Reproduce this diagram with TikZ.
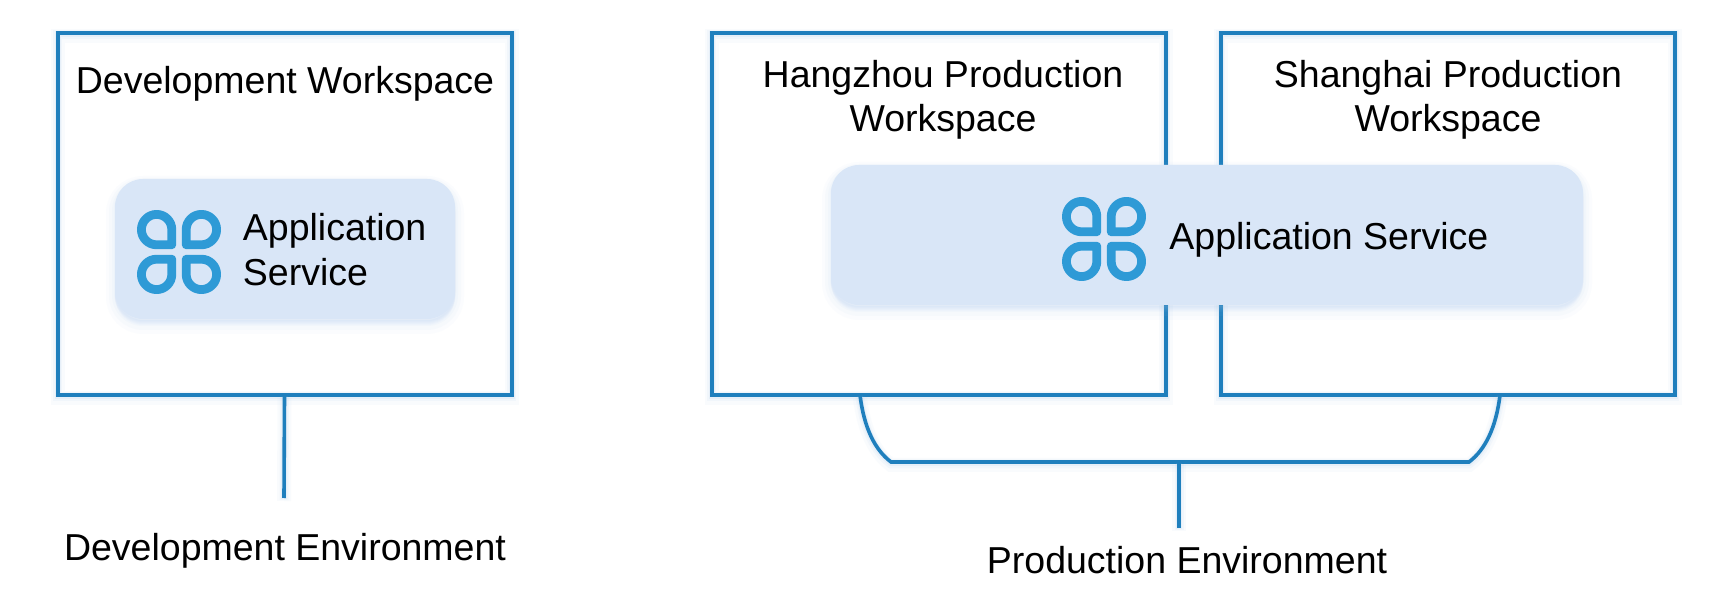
\documentclass[tikz,border=0pt]{standalone}
\usepackage{fontspec}
\setmainfont{Liberation Sans}
\definecolor{linec}{HTML}{1F7FBD}
\definecolor{appfill}{HTML}{D9E6F7}
\definecolor{iconc}{HTML}{2E9AD6}
\definecolor{glowc}{HTML}{9CC3EA}
\tikzset{
  glowline/.style={
    preaction={draw=glowc,line width=7pt,opacity=.05,transform canvas={yshift=-1.5pt}},
    preaction={draw=glowc,line width=4.5pt,opacity=.08,transform canvas={yshift=-1pt}},
    preaction={draw=glowc,line width=3pt,opacity=.12,transform canvas={yshift=-.5pt}}},
  wsbox/.style={rectangle,draw=linec,line width=2pt,fill=none,glowline,minimum width=227pt,minimum height=181pt,inner sep=0pt,outer sep=0pt},
  appbox/.style={rectangle,rounded corners=14pt,fill=appfill,inner sep=0pt,
    preaction={draw=glowc,fill=glowc,line width=9pt,opacity=.04,transform canvas={yshift=-3pt}},
    preaction={draw=glowc,fill=glowc,line width=6pt,opacity=.05,transform canvas={yshift=-2.5pt}},
    preaction={draw=glowc,fill=glowc,line width=3pt,opacity=.05,transform canvas={yshift=-2pt}},
    preaction={draw=glowc,fill=glowc,line width=1pt,opacity=.05,transform canvas={yshift=-1pt}}},
  wire/.style={draw=linec,line width=1.8pt,glowline},
  label/.style={font=\fontsize{18.75}{22}\selectfont,align=center,text=black,inner sep=0pt},
  leftlabel/.style={font=\fontsize{18.75}{22.5}\selectfont,align=left,text=black,inner sep=0pt},
  petal/.style={draw=iconc,line width=4.4pt,line join=round,fill=none},
  clover/.pic={
    \foreach \a in {0,90,180,270}{
      \draw[petal,rotate=\a] (-3.6pt,3.6pt) -- (-11.2pt,3.6pt) arc[start angle=270,end angle=0,radius=7.6pt] -- cycle;
    }
  }
}
\begin{document}
\begin{tikzpicture}[x=.5pt,y=-.5pt]
\useasboundingbox[fill=white] (0,0) rectangle (1728,608);
% workspaces
\node[wsbox] (dev) at (284.5,214) {};
\node[wsbox] (hz) at (938.5,214) {};
\node[wsbox] (sh) at (1447.5,214) {};
% connectors
\coordinate (devend) at (284,498);
\coordinate (hzfoot) at (860,395);
\coordinate (shfoot) at (1500,395);
\coordinate (brl) at (891,462);
\coordinate (brr) at (1469,462);
\coordinate (brm) at (1179,462);
\coordinate (prodend) at (1179,528);
\draw[wire] (dev.south) -- (devend);
\draw[wire,line join=miter] (hzfoot) .. controls (864,428) and (875,450) .. (brl) -- (brr) .. controls (1485,450) and (1496,428) .. (shfoot);
\draw[wire] (brm) -- (prodend);
% titles
\node[label] (t1) at (285,84) {Development Workspace};
\node[label] (t2) at (943,100) {Hangzhou Production\\Workspace};
\node[label] (t3) at (1448,100) {Shanghai Production\\Workspace};
% application services
\node[appbox,minimum width=170pt,minimum height=70pt] (app1) at (285,249) {};
\node[appbox,minimum width=376pt,minimum height=70pt] (app2) at (1207,235) {};
\pic at (179,252) {clover};
\pic at (1104,239) {clover};
\node[leftlabel,anchor=west] (s1) at (242.5,250) {Application\\Service};
\node[label,anchor=west] (s2) at (1169,240) {Application Service};
% environment labels
\node[label] (e1) at (285,551) {Development Environment};
\node[label] (e2) at (1187,560) {Production Environment};
\end{tikzpicture}
\end{document}
